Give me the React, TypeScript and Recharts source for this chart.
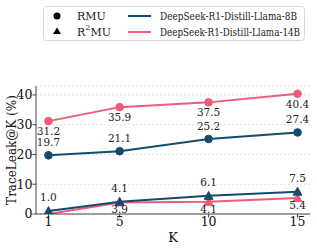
import React from "react";
import { LineChart, Line, XAxis, YAxis, CartesianGrid, LabelList, Legend } from "recharts";

const kValues = [1, 5, 10, 15];
const rmu8B = [19.7, 21.1, 25.2, 27.4];
const rmu14B = [31.2, 35.9, 37.5, 40.4];
const r2mu8B = [1.0, 4.1, 6.1, 7.5];
const r2mu14B = [0.0, 3.9, 4.1, 5.4];
const yTicks = [0, 10, 20, 30, 40];

const TEAL = "#124b6c";
const PINK = "#ef5b79";
const FONT = "'DejaVu Serif', serif";

const toRows = (vals: number[]) => kValues.map((k, i) => ({ k, v: vals[i] }));

const Circle = (color: string) => (p: any) => (
  <circle key={p.key ?? `c-${p.index}`} cx={p.cx} cy={p.cy} r={3.8} fill={color} stroke={color} />
);
const Tri = (color: string) => (p: any) => {
  const s = 4.4;
  const pts = `${p.cx},${p.cy - s} ${p.cx - s},${p.cy + s * 0.8} ${p.cx + s},${p.cy + s * 0.8}`;
  return <polygon key={p.key ?? `t-${p.index}`} points={pts} fill={color} stroke={color} />;
};

const makeLabel = (dy: number, skipZero: boolean) => (p: any) => {
  const { x, y, value, index } = p;
  if (skipZero && value === 0) return <g key={`l-${index}`} />;
  return (
    <text key={`l-${index}`} x={x} y={y + dy} textAnchor="middle" fontSize={10.5} fontFamily={FONT} fill="#222" dominantBaseline="central">
      {Number(value).toFixed(1)}
    </text>
  );
};

const SQ = 0.8;

const LegendBox = () => (
  <svg width={274} height={36} style={{ display: "block", overflow: "visible" }}>
    <rect x={0.5} y={0.5} width={261} height={34} rx={3} fill="#fff" stroke="#d8d8d8" />
    <circle cx={14} cy={10} r={3.5} fill="#000" />
    <polygon points="14,21.5 10,28 18,28" fill="#000" />
    <text x={34} y={10} fontSize={11} fontFamily={FONT} dominantBaseline="central" fill="#222">RMU</text>
    <text x={34} y={26} fontSize={11} fontFamily={FONT} dominantBaseline="central" fill="#222">
      R<tspan dy={-5} fontSize={8}>2</tspan><tspan dy={5}>MU</tspan>
    </text>
    <line x1={85} x2={108} y1={10} y2={10} stroke={TEAL} strokeWidth={2} />
    <line x1={85} x2={108} y1={26} y2={26} stroke={PINK} strokeWidth={2} />
    <g transform={`translate(117,10) scale(${SQ},1)`}>
      <text x={0} y={0} fontSize={11} fontFamily={FONT} dominantBaseline="central" fill="#222" textLength={137 / SQ} lengthAdjust="spacingAndGlyphs">DeepSeek-R1-Distill-Llama-8B</text>
    </g>
    <g transform={`translate(117,26) scale(${SQ},1)`}>
      <text x={0} y={0} fontSize={11} fontFamily={FONT} dominantBaseline="central" fill="#222" textLength={140 / SQ} lengthAdjust="spacingAndGlyphs">DeepSeek-R1-Distill-Llama-14B</text>
    </g>
  </svg>
);

const YLabel = (p: any) => {
  const vb = p.viewBox || {};
  const x = 12;
  const y = (vb.y ?? 50) + (vb.height ?? 164) / 2;
  return (
    <text x={x} y={y} transform={`rotate(-90 ${x} ${y})`} textAnchor="middle" dominantBaseline="central" fontSize={12} fontFamily={FONT} fill="#111">
      TraceLeak@K (%)
    </text>
  );
};

export default function App() {
  const tick = { fontSize: 12.5, fill: "#111", fontFamily: FONT };
  return (
    <div style={{ position: "absolute", left: 0, top: 0, background: "#fff" }}>
      <LineChart width={317} height={250} margin={{ top: 50, right: 7, bottom: 0, left: 0 }}>
        <CartesianGrid vertical={false} stroke="#e0e0e0" strokeDasharray="2 2" />
        <XAxis
          dataKey="k"
          type="number"
          domain={[0.3, 15.7]}
          ticks={kValues}
          allowDataOverflow
          height={36}
          tick={tick}
          tickSize={3.5}
          tickMargin={0}
          stroke="#444"
          label={{ value: "K", position: "insideBottom", offset: 8, style: { fontSize: 13, fontFamily: FONT, fill: "#111" } }}
        />
        <YAxis
          type="number"
          domain={[0, 43]}
          ticks={yTicks}
          allowDataOverflow
          width={36}
          tick={tick}
          tickSize={3.5}
          tickMargin={0}
          stroke="#444"
          label={<YLabel />}
        />
        <Legend verticalAlign="top" content={() => <LegendBox />} wrapperStyle={{ position: "absolute", top: 6, left: 43, width: 274 }} />
        <Line data={toRows(rmu8B)} dataKey="v" stroke={TEAL} strokeWidth={2} dot={Circle(TEAL)} isAnimationActive={false}>
          <LabelList dataKey="v" content={makeLabel(-13, false)} />
        </Line>
        <Line data={toRows(rmu14B)} dataKey="v" stroke={PINK} strokeWidth={2} dot={Circle(PINK)} isAnimationActive={false}>
          <LabelList dataKey="v" content={makeLabel(10, false)} />
        </Line>
        <Line data={toRows(r2mu14B)} dataKey="v" stroke={PINK} strokeWidth={2} dot={Tri(PINK)} isAnimationActive={false}>
          <LabelList dataKey="v" content={makeLabel(7, true)} />
        </Line>
        <Line data={toRows(r2mu8B)} dataKey="v" stroke={TEAL} strokeWidth={2} dot={Tri(TEAL)} isAnimationActive={false}>
          <LabelList dataKey="v" content={makeLabel(-14, false)} />
        </Line>
      </LineChart>
    </div>
  );
}
